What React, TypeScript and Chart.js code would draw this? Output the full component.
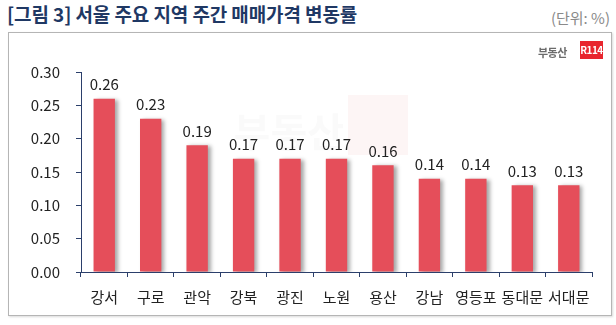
import React, { useEffect, useRef } from "react";
import { Chart, registerables } from "chart.js";

Chart.register(...registerables);

const categories = ["강서", "구로", "관악", "강북", "광진", "노원", "용산", "강남", "영등포", "동대문", "서대문"];
const values = [0.26, 0.23, 0.19, 0.17, 0.17, 0.17, 0.16, 0.14, 0.14, 0.13, 0.13];
const yTicks = [0.0, 0.05, 0.1, 0.15, 0.2, 0.25, 0.3];
const titleText = "[그림 3] 서울 주요 지역 주간 매매가격 변동률";
const unitText = "(단위: %)";

const FONT = "'Noto Sans CJK KR', 'Noto Sans', sans-serif";
const NAVY = "#2B3F6B";
const BAR = "#E54E5A";

const watermarkPlugin = {
  id: "watermark",
  beforeDatasetsDraw(chart: any) {
    const ctx = chart.ctx;
    ctx.save();
    ctx.fillStyle = "rgba(229,78,90,0.06)";
    ctx.fillRect(348, 95, 60, 60);
    ctx.fillStyle = "rgba(150,150,150,0.05)";
    ctx.font = `bold 40px ${FONT}`;
    ctx.textAlign = "right";
    ctx.textBaseline = "middle";
    ctx.fillText("부동산", 344, 132);
    ctx.restore();
  },
};

const shadowPlugin = {
  id: "barShadow",
  beforeDatasetDraw(chart: any) {
    const ctx = chart.ctx;
    ctx.save();
    ctx.shadowColor = "rgba(0,0,0,0.35)";
    ctx.shadowBlur = 4;
    ctx.shadowOffsetX = 3;
    ctx.shadowOffsetY = 1;
  },
  afterDatasetDraw(chart: any) {
    chart.ctx.restore();
  },
};

const labelPlugin = {
  id: "valueLabels",
  afterDatasetsDraw(chart: any) {
    const ctx = chart.ctx;
    const meta = chart.getDatasetMeta(0);
    ctx.save();
    ctx.fillStyle = "#222";
    ctx.font = `15px ${FONT}`;
    ctx.textAlign = "center";
    ctx.textBaseline = "bottom";
    meta.data.forEach((bar: any, i: number) => {
      const v = chart.data.datasets[0].data[i] as number;
      ctx.fillText(v.toFixed(2), bar.x, bar.y - 7);
    });
    ctx.restore();
  },
};

export default function App() {
  const ref = useRef<HTMLCanvasElement>(null);

  useEffect(() => {
    if (!ref.current) return;
    const chart = new Chart(ref.current, {
      type: "bar",
      data: {
        labels: categories,
        datasets: [
          {
            data: values,
            backgroundColor: BAR,
            borderWidth: 0,
            categoryPercentage: 1,
            barPercentage: 0.46,
          },
        ],
      },
      options: {
        animation: false,
        responsive: false,
        maintainAspectRatio: false,
        layout: { padding: { left: 0, right: 24, top: 72, bottom: 0 } },
        plugins: { legend: { display: false }, tooltip: { enabled: false } },
        scales: {
          x: {
            afterFit: (s: any) => {
              s.height = 53;
            },
            grid: {
              display: true,
              drawOnChartArea: false,
              offset: true,
              tickLength: 5,
              color: NAVY,
              tickColor: NAVY,
            },
            border: { display: true, color: NAVY, width: 1 },
            ticks: {
              color: "#222",
              font: { family: FONT, size: 15 },
              padding: 11,
              maxRotation: 0,
              autoSkip: false,
            },
          },
          y: {
            min: 0,
            max: 0.3,
            afterFit: (s: any) => {
              s.width = 81;
            },
            afterBuildTicks: (s: any) => {
              s.ticks = yTicks.map((v) => ({ value: v }));
            },
            grid: {
              display: true,
              drawOnChartArea: false,
              tickLength: 5,
              color: NAVY,
              tickColor: NAVY,
            },
            border: { display: true, color: NAVY, width: 1 },
            ticks: {
              color: "#222",
              font: { family: FONT, size: 15 },
              padding: 16,
              callback: (v: any) => Number(v).toFixed(2),
            },
          },
        },
      },
      plugins: [watermarkPlugin, shadowPlugin, labelPlugin],
    });
    return () => chart.destroy();
  }, []);

  return (
    <div
      style={{
        position: "absolute",
        left: 0,
        top: 0,
        width: 616,
        height: 325,
        background: "#fff",
        fontFamily: FONT,
        overflow: "hidden",
      }}
    >
      <div
        style={{
          position: "absolute",
          left: 7,
          top: 0,
          fontSize: 19,
          fontWeight: 700,
          color: "#1F3864",
          whiteSpace: "nowrap",
          letterSpacing: -0.1,
        }}
      >
        {titleText}
      </div>
      <div
        style={{
          position: "absolute",
          right: 6,
          top: 7,
          fontSize: 15,
          color: "#8a8a8a",
          whiteSpace: "nowrap",
        }}
      >
        {unitText}
      </div>
      <div
        style={{
          position: "absolute",
          left: 8,
          top: 32,
          width: 602,
          height: 282,
          border: "1px solid #b5b5b5",
          boxShadow: "1px 1px 2px rgba(0,0,0,0.15)",
        }}
      />
      <canvas ref={ref} width={616} height={325} style={{ position: "absolute", left: 0, top: 0 }} />
      <div
        style={{
          position: "absolute",
          left: 538,
          top: 44,
          fontSize: 11,
          fontWeight: 700,
          color: "#6b6b6b",
          whiteSpace: "nowrap",
          letterSpacing: -0.5,
        }}
      >
        부동산
      </div>
      <div
        style={{
          position: "absolute",
          left: 580,
          top: 41,
          width: 23,
          height: 18,
          background: "#E8262E",
          color: "#fff",
          fontSize: 10,
          fontWeight: 700,
          lineHeight: "18px",
          textAlign: "center",
          letterSpacing: -0.5,
        }}
      >
        R114
      </div>
    </div>
  );
}
